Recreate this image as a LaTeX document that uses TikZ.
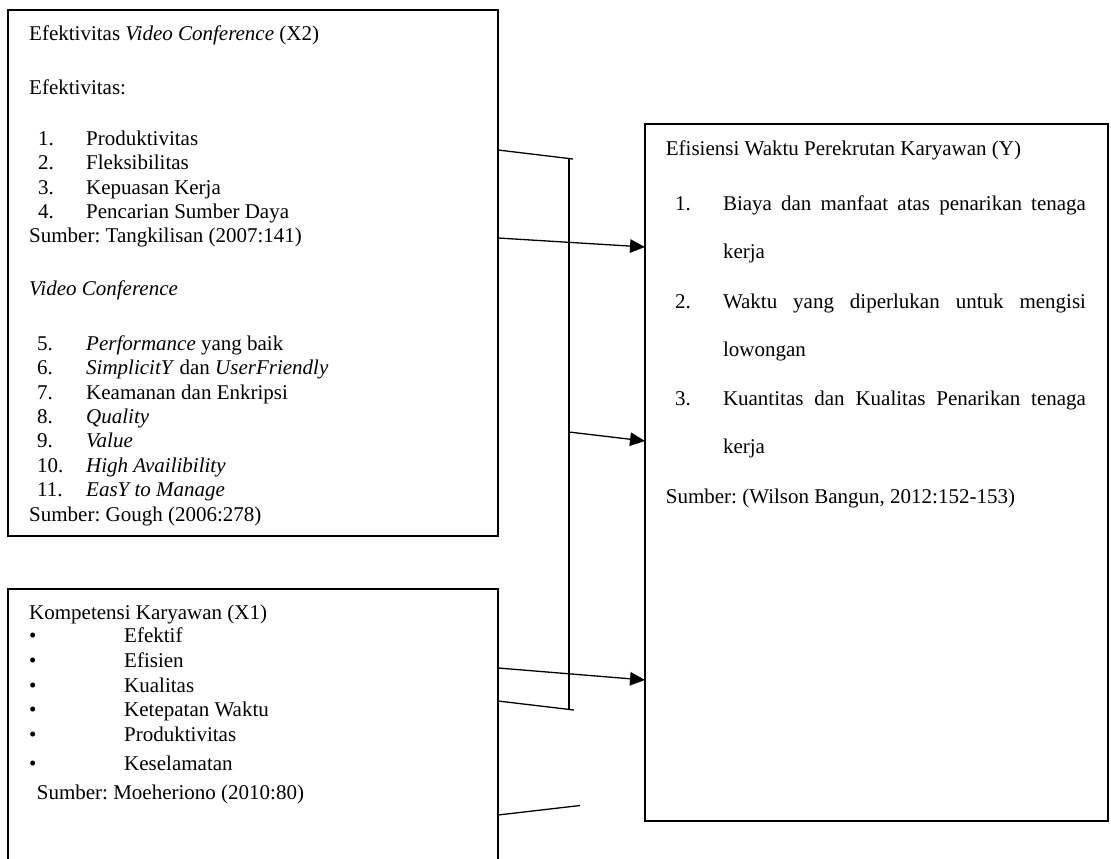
\documentclass[tikz,border=0pt]{standalone}
\usepackage{fontspec}
\setmainfont{Liberation Serif}
\frenchspacing
\usetikzlibrary{arrows.meta}

\tikzset{varbox/.style={draw,line width=1.7pt,inner sep=0pt,outer sep=0pt,anchor=north west},
         link/.style={line width=1.3pt},
         linkarr/.style={link,-{Triangle[length=15pt,width=13.5pt]}},
         txt/.style={anchor=base west,inner sep=0pt,font=\fontsize{21}{25}\selectfont}}

\begin{document}
\begin{tikzpicture}[x=1pt,y=-1pt]
  \useasboundingbox (0,0) rectangle (1111,859);
  \clip (0,0) rectangle (1111,859);
  % boxes
  \node[varbox,minimum width=490pt,minimum height=526pt] (x2box) at (8,10) {};
  \node[varbox,minimum width=490pt,minimum height=300pt] (x1box) at (8,589) {};
  \node[varbox,line width=1.5pt,minimum width=463pt,minimum height=697pt] (ybox) at (645,124) {};
  % X2
  \node[txt] (x2title) at (29,40.7) {Efektivitas \textit{Video Conference} (X2)};
  \node[txt] (x2sub) at (29,94) {Efektivitas:};
  \foreach \n/\y/\t in {1/145.7/Produktivitas,2/169.9/Fleksibilitas,3/194.1/Kepuasan Kerja,4/218.4/Pencarian Sumber Daya}
    {\node[txt] (x2n\n) at (38,\y) {\n.}; \node[txt] (x2i\n) at (86,\y) {\t};}
  \node[txt] (x2src) at (29,242.7) {Sumber: Tangkilisan (2007:141)};
  \node[txt] (vctitle) at (29,295) {\textit{Video Conference}};
  \foreach \n/\y/\t in {5/350/\textit{Performance} yang baik,6/374.5/\textit{SimplicitY} dan \textit{UserFriendly},
                        7/399/Keamanan dan Enkripsi,8/423.3/\textit{Quality},9/447.7/\textit{Value},
                        10/472.2/\textit{High Availibility},11/496.7/\textit{EasY to Manage}}
    {\node[txt] (vcn\n) at (37,\y) {\n.}; \node[txt] (vci\n) at (86,\y) {\t};}
  \node[txt] (vcsrc) at (29,521.7) {Sumber: Gough (2006:278)};
  % X1
  \node[txt] (x1title) at (29,619.3) {Kompetensi Karyawan (X1)};
  \foreach \n/\y/\t in {1/642.7/Efektif,2/667.7/Efisien,3/692.7/Kualitas,4/716.7/Ketepatan Waktu,5/741.7/Produktivitas,6/770/Keselamatan}
    {\node[txt] (x1b\n) at (29,\y) {•}; \node[txt] (x1i\n) at (124,\y) {\t};}
  \node[txt] (x1src) at (36.7,799.3) {Sumber: Moeheriono (2010:80)};
  % Y
  \node[txt] (ytitle) at (665.7,155) {Efisiensi Waktu Perekrutan Karyawan (Y)};
  \node[txt] (yn1) at (675,210) {1.};
  \node[txt] (yi1a) at (722.8,210) {\makebox[363pt][s]{Biaya dan manfaat atas penarikan tenaga}};
  \node[txt] (yi1b) at (722.8,258.3) {kerja};
  \node[txt] (yn2) at (675,308.3) {2.};
  \node[txt] (yi2a) at (722.8,308.3) {\makebox[363pt][s]{Waktu yang diperlukan untuk mengisi}};
  \node[txt] (yi2b) at (722.8,356.7) {lowongan};
  \node[txt] (yn3) at (675,405) {3.};
  \node[txt] (yi3a) at (722.8,405) {\makebox[363pt][s]{Kuantitas dan Kualitas Penarikan tenaga}};
  \node[txt] (yi3b) at (722.8,453.3) {kerja};
  \node[txt] (ysrc) at (665.7,503.3) {Sumber: (Wilson Bangun, 2012:152-153)};
  % connectors
  \coordinate (brtop) at (569,158.5);
  \coordinate (brbot) at (569,710);
  \coordinate (brmid) at (569,432);
  \coordinate (brend1) at (573,159);
  \coordinate (brend2) at (574,710);
  \coordinate (stub) at (580,805.5);
  \draw[link] ([yshift=-140pt]x2box.north east) -- (brend1);
  \draw[link] (brtop) -- (brbot);
  \draw[linkarr] ([yshift=-228pt]x2box.north east) -- ([yshift=-123pt]ybox.north west);
  \draw[linkarr] (brmid) -- ([yshift=-317pt]ybox.north west);
  \draw[linkarr] ([yshift=-79pt]x1box.north east) -- ([yshift=-556pt]ybox.north west);
  \draw[link] ([yshift=-112pt]x1box.north east) -- (brend2);
  \draw[link] ([yshift=-226pt]x1box.north east) -- (stub);
\end{tikzpicture}
\end{document}
